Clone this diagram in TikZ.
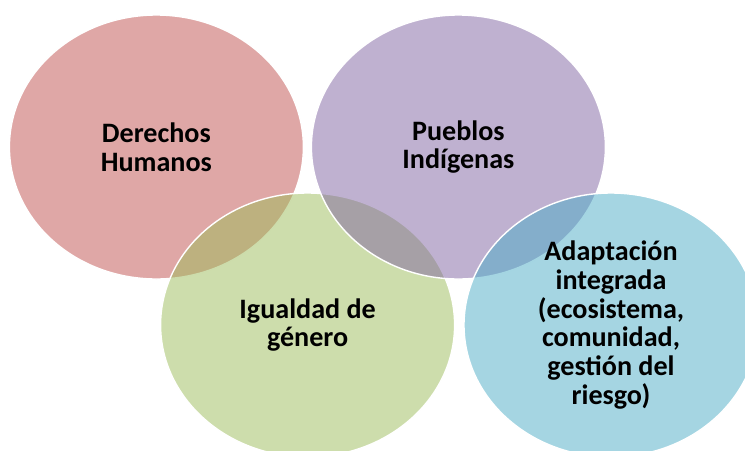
\documentclass[tikz,border=0pt]{standalone}
\usepackage{fontspec}
\setmainfont{Carlito}
\usetikzlibrary{shapes.geometric}
\begin{document}
\begin{tikzpicture}[
    circ/.style={ellipse, draw=white, line width=1pt, fill opacity=0.5, text opacity=1,
      minimum width=7.35cm, minimum height=6.6cm, inner sep=0pt,
      align=center, font=\fontsize{20}{20.4}\selectfont\bfseries},
    redc/.style={circ, fill={rgb,255:red,192;green,80;blue,77}},
    purc/.style={circ, fill={rgb,255:red,128;green,100;blue,162}},
    grnc/.style={circ, fill={rgb,255:red,155;green,187;blue,89}},
    bluc/.style={circ, fill={rgb,255:red,75;green,172;blue,198}}]
    \useasboundingbox (0,0) rectangle (18.625,-11.25);
    \clip (0,0) rectangle (18.625,-11.25);
    \coordinate (C1) at (3.91,-3.675);
    \coordinate (C2) at (11.46,-3.675);
    \coordinate (C3) at (7.69,-8.125);
    \coordinate (C4) at (15.275,-8.125);

    \node[redc] (dh) at (C1) {Derechos\\Humanos};
    \node[grnc] (ig) at (C3) {Igualdad de\\género};
    \node[purc] (pi) at (C2) {Pueblos\\Indígenas};
    \node[bluc] (ai) at (C4) {Adaptación\\integrada\\(ecosistema,\\comunidad,\\gestión del\\riesgo)};
 \end{tikzpicture}
\end{document}
